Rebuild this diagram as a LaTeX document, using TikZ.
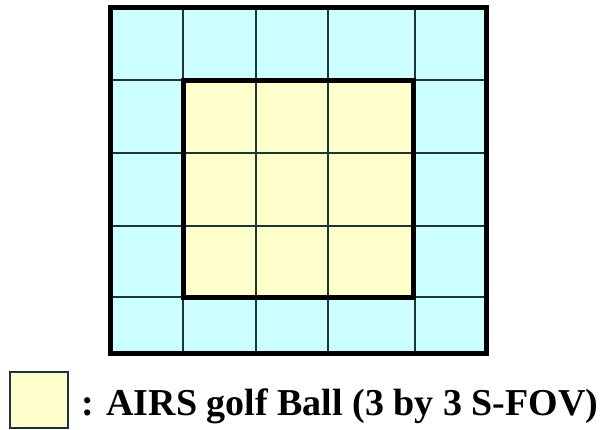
\documentclass[tikz,border=0pt]{standalone}
\usepackage{fontspec}
\setmainfont{Liberation Serif}
\definecolor{cyanc}{HTML}{CCFFFF}
\definecolor{yellc}{HTML}{FFFFCC}
\definecolor{gridc}{HTML}{1E3535}
\begin{document}
\begin{tikzpicture}[x=1pt,y=-1pt,
  thinline/.style={draw=gridc,line width=2pt},
  thickline/.style={draw=black,line width=5pt},
  legendbox/.style={draw=gridc,line width=1.5pt,fill=yellc}]
\useasboundingbox (0,0) rectangle (600,429);
% fills
\fill[cyanc] (110,7) rectangle (486,353);
\fill[yellc] (183,80) rectangle (413,297);
% thin grid lines
\foreach \x in {183,256,328,415} \draw[thinline] (\x,7) -- (\x,353);
\foreach \y in {80,153,226,297} \draw[thinline] (110,\y) -- (486,\y);
% thick boxes
\draw[thickline] (110,7) rectangle (486,353);
\draw[thickline] (183,80) rectangle (413,297);
% legend
\node[legendbox,minimum width=58pt,minimum height=56pt,inner sep=0pt] (key) at (39,400) {};
\node[anchor=base west,inner sep=0pt,font=\fontsize{38}{40}\selectfont\bfseries] (keytext) at (81,415) {: AIRS golf Ball (3 by 3 S-FOV)};
\end{tikzpicture}
\end{document}
